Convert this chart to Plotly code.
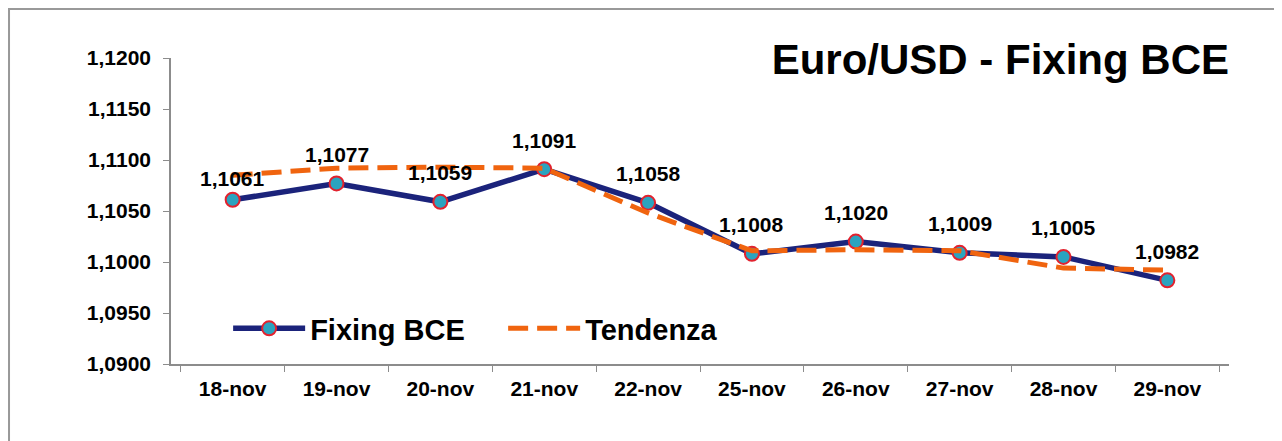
import plotly.graph_objects as go

# --------------------------------------------------------------
# Data
# --------------------------------------------------------------
days = ["18-nov", "19-nov", "20-nov", "21-nov", "22-nov",
        "25-nov", "26-nov", "27-nov", "28-nov", "29-nov"]
fixing = [1.1061, 1.1077, 1.1059, 1.1091, 1.1058,
          1.1008, 1.1020, 1.1009, 1.1005, 1.0982]
trend = [1.1085, 1.1092, 1.1093, 1.1092, 1.1048,
         1.1011, 1.1012, 1.1011, 1.0994, 1.0992]

FONT = "Arial, 'Liberation Sans', sans-serif"
NAVY = "#1B237B"
TEAL = "#2BA3BF"
RED = "#E2222E"
ORANGE = "#F0640F"
AXIS_GREY = "#8C8C8C"


def it_num(v):
    # Italian decimal comma
    return f"{v:.4f}".replace(".", ",")


fig = go.Figure()

fig.add_trace(go.Scatter(
    x=days, y=fixing,
    mode="lines+markers",
    name="Fixing BCE",
    line=dict(color=NAVY, width=5.5),
    marker=dict(size=14, color=TEAL, line=dict(color=RED, width=2)),
))

fig.add_trace(go.Scatter(
    x=days, y=trend,
    mode="lines",
    name="Tendenza",
    line=dict(color=ORANGE, width=5, dash="20px,9px"),
))

# data labels above each fixing point
for i, (d, v) in enumerate(zip(days, fixing)):
    fig.add_annotation(
        x=d, y=v, text=it_num(v), showarrow=False,
        yanchor="middle", yshift=21 if i == 0 else 29,
        font=dict(family=FONT, size=21, color="black", weight="bold"),
    )

# grey frame around the whole chart
fig.add_shape(
    type="rect", xref="paper", yref="paper",
    x0=-0.1531, x1=1.0444, y0=-0.5, y1=1.160,
    line=dict(color="#999999", width=2), layer="below",
)

fig.update_layout(
    width=1274, height=433,
    margin=dict(l=163, r=53, t=50, b=77),
    paper_bgcolor="white",
    plot_bgcolor="white",
    separators=",.",
    font=dict(family=FONT, color="black"),
    title=dict(
        text="<b>Euro/USD - Fixing BCE</b>",
        font=dict(family=FONT, size=42, color="black"),
        xref="paper", x=1, xanchor="right",
        yref="container", y=1 - 51 / 433, yanchor="middle",
    ),
    legend=dict(
        orientation="h",
        x=0.054, y=0.116, xanchor="left", yanchor="middle",
        bgcolor="rgba(0,0,0,0)",
        font=dict(family=FONT, size=29, color="black", weight="bold"),
        itemwidth=72,
        entrywidth=188, entrywidthmode="pixels",
    ),
)

fig.update_xaxes(
    type="category",
    showline=True, linecolor=AXIS_GREY, linewidth=1.5,
    ticks="outside", tickson="boundaries", ticklen=6, tickcolor=AXIS_GREY,
    ticklabelstandoff=5,
    tickfont=dict(family=FONT, size=21, color="black", weight="bold"),
    showgrid=False, zeroline=False,
)

fig.update_yaxes(
    range=[1.09, 1.12], dtick=0.005, tickformat=".4f",
    showline=True, linecolor=AXIS_GREY, linewidth=1.5,
    ticks="outside", ticklen=6, tickcolor=AXIS_GREY,
    ticklabelstandoff=8,
    tickfont=dict(family=FONT, size=21, color="black", weight="bold"),
    showgrid=False, zeroline=False,
)

fig.write_html("out.html")
